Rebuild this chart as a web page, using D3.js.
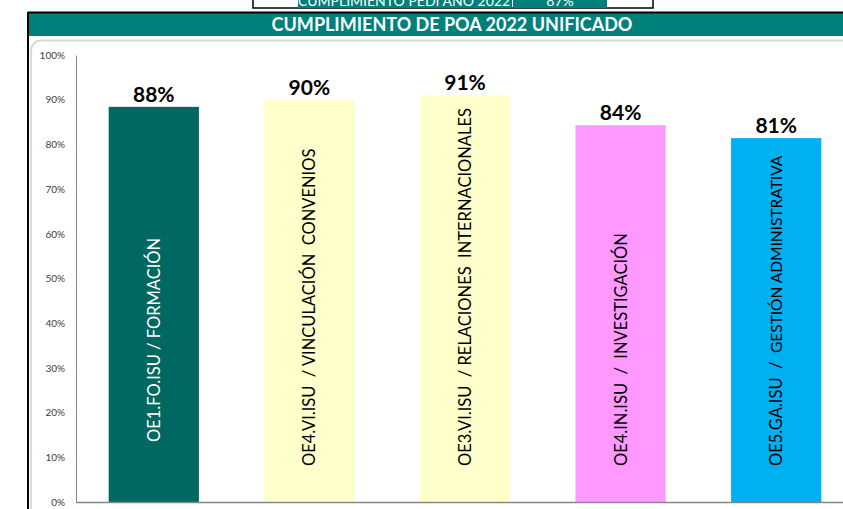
<!DOCTYPE html>
<html>
<head>
<meta charset="utf-8">
<script src="https://cdn.jsdelivr.net/npm/d3@7"></script>
<style>
  body { margin:0; background:#fff; overflow:hidden; }
  text { font-family: Lato, "Open Sans", sans-serif; }
</style>
</head>
<body>
<div id="chart"></div>
<script>
// datos
var codigos = ["OE1.FO.ISU", "OE4.VI.ISU", "OE3.VI.ISU", "OE4.IN.ISU", "OE5.GA.ISU"]
var areas = ["FORMACIÓN", "VINCULACIÓN  CONVENIOS", "RELACIONES  INTERNACIONALES", "INVESTIGACIÓN", "GESTIÓN ADMINISTRATIVA"]
var cumplimiento = [0.884, 0.899, 0.910, 0.843, 0.814]
var colores = ["#006860", "#FFFFCC", "#FFFFCC", "#FF99FF", "#00B0F0"]
var colorTexto = ["#fff", "#000", "#000", "#000", "#000"]
var ticks = [0, 0.1, 0.2, 0.3, 0.4, 0.5, 0.6, 0.7, 0.8, 0.9, 1]
var titulo = "CUMPLIMIENTO DE POA 2022 UNIFICADO"
var tituloPedi = "CUMPLIMIENTO PEDI AÑO 2022"
var valorPedi = "87%"

var width = 843, height = 509
var teal = "#00807A"

var svg = d3.select("#chart").append("svg")
  .attr("width", width).attr("height", height)

// celda de arriba (cortada como en la hoja)
svg.append("rect").attr("x",253).attr("y",-2).attr("width",400).attr("height",10)
  .attr("fill","#fff").attr("stroke","#000").attr("stroke-width",1.5)
svg.append("rect").attr("x",298).attr("y",-2).attr("width",214).attr("height",10).attr("fill",teal)
svg.append("rect").attr("x",513).attr("y",-2).attr("width",94).attr("height",10).attr("fill",teal)
svg.append("text").attr("x",510).attr("y",6).attr("text-anchor","end")
  .attr("fill","#fff").style("font-size","14px").text(tituloPedi)
svg.append("text").attr("x",560).attr("y",6).attr("text-anchor","middle")
  .attr("fill","#fff").style("font-size","14px").text(valorPedi)

// barra del titulo
svg.append("rect").attr("x",28).attr("y",13).attr("width",width).attr("height",23).attr("fill",teal)
svg.append("line").attr("x1",28).attr("x2",width).attr("y1",12.5).attr("y2",12.5)
  .attr("stroke","#000").attr("stroke-width",2)
svg.append("line").attr("x1",28).attr("x2",28).attr("y1",12).attr("y2",height)
  .attr("stroke","#000").attr("stroke-width",2)
svg.append("text").attr("x",452).attr("y",31).attr("text-anchor","middle")
  .attr("fill","#fff").style("font-size","18px").style("font-weight","bold").text(titulo)

// marco del grafico
svg.append("rect").attr("x",31).attr("y",40.5).attr("width",width).attr("height",height)
  .attr("rx",10).attr("fill","#fff").attr("stroke","#d9d9d9").attr("stroke-width",2)

var x = d3.scaleBand().domain(codigos).range([76, 854]).paddingInner(0.42).paddingOuter(0.21)
var y = d3.scaleLinear().domain([0, 1]).range([502, 55])

var yAxis = svg.append("g").attr("transform","translate(76,0)")
  .call(d3.axisLeft(y).tickValues(ticks).tickFormat(d3.format(".0%")).tickSize(0).tickPadding(11))
yAxis.select(".domain").attr("stroke","#868686")
yAxis.selectAll("text").attr("fill","#404040").style("font-size","10px")

svg.selectAll(".bar").data(cumplimiento).enter().append("rect")
  .attr("x", function(d,i){ return x(codigos[i]) })
  .attr("y", function(d){ return y(d) })
  .attr("width", x.bandwidth())
  .attr("height", function(d){ return y(0) - y(d) })
  .attr("fill", function(d,i){ return colores[i] })

svg.append("line").attr("x1",76).attr("x2",width).attr("y1",502.5).attr("y2",502.5)
  .attr("stroke","#868686").attr("stroke-width",1.5)

// valores
svg.selectAll(".val").data(cumplimiento).enter().append("text")
  .attr("x", function(d,i){ return x(codigos[i]) + x.bandwidth()/2 })
  .attr("y", function(d){ return y(d) - 5 })
  .attr("text-anchor","middle").style("font-size","21px").style("font-weight","bold")
  .attr("fill","#000")
  .text(function(d){ return d3.format(".0%")(d) })

// etiquetas verticales
var etiquetas = svg.selectAll(".lab").data(codigos).enter().append("text")
  .attr("transform", function(d,i){
    return "translate(" + (x(d) + x.bandwidth()/2 + 6) + "," + (i == 0 ? 442 : 466) + ") rotate(-90)"
  })
  .attr("fill", function(d,i){ return colorTexto[i] })
  .style("font-size","16.5px")
  .style("white-space","pre")
etiquetas.append("tspan").text(function(d,i){ return d + (i == 0 ? " / " : (i == 1 || i == 2) ? "  / " : "  /  ") })
etiquetas.append("tspan")
  .style("font-size", function(d,i){ return i == 4 ? "15.5px" : "16.5px" })
  .text(function(d,i){ return areas[i] })
</script>
</body>
</html>
